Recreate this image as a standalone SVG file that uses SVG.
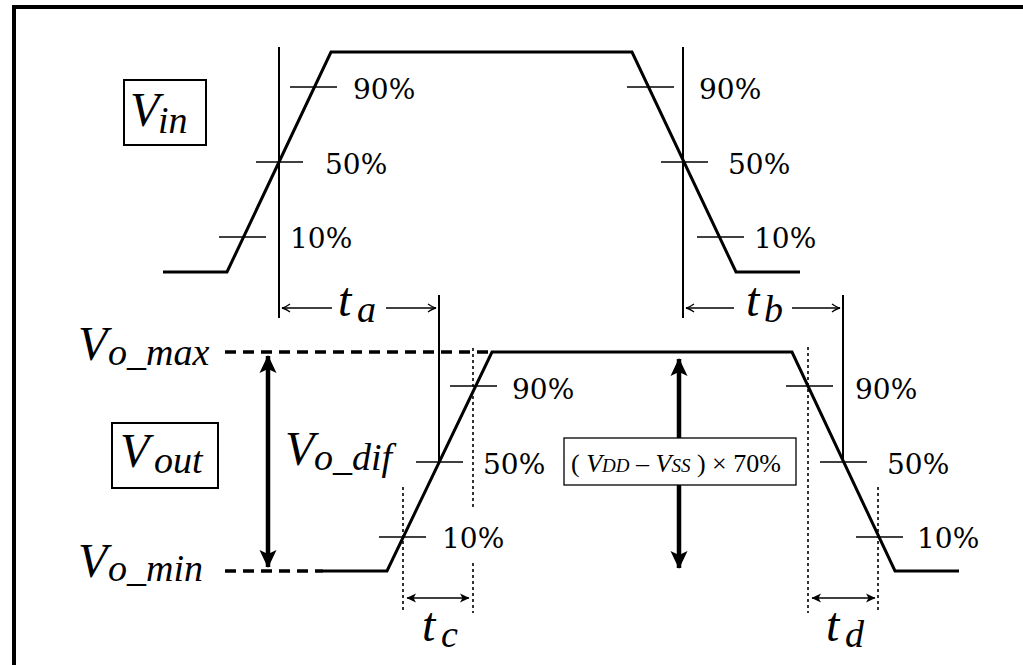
<svg xmlns="http://www.w3.org/2000/svg" width="1023" height="665" viewBox="0 0 1023 665">
<style>
.wave{fill:none;stroke:#000;stroke-width:3;stroke-linejoin:miter}
.vline{stroke:#000;stroke-width:2}
.tick{stroke:#000;stroke-width:1.5}
.dot{stroke:#000;stroke-width:1.6;stroke-dasharray:3 3}
.dash{stroke:#000;stroke-width:3.5;stroke-dasharray:11 7}
.big{stroke:#000;stroke-width:4.5}
.thin{stroke:#000;stroke-width:1.5;fill:none}
text{fill:#000}
.pct{font-family:'DejaVu Serif',serif;font-size:28px}
.mv{font-family:'Liberation Serif',serif;font-style:italic;font-size:48px}
.ms{font-family:'Liberation Serif',serif;font-style:italic;font-size:38px}
.box{fill:#fff;stroke:#000;stroke-width:2}
.eq{font-family:'Liberation Serif',serif;font-size:26px}
</style>
<defs>
<marker id="bigHead" viewBox="-18 -9 20 18" markerWidth="20" markerHeight="18" refX="0" refY="0" orient="auto-start-reverse" markerUnits="userSpaceOnUse">
<path d="M1,0 L-17,-8.5 L-13,0 L-17,8.5 Z" fill="#000"/>
</marker>
<marker id="openHead" viewBox="-10 -6 12 12" markerWidth="12" markerHeight="12" refX="0" refY="0" orient="auto-start-reverse" markerUnits="userSpaceOnUse">
<path d="M-8,-4 Q-3,-0.5 0,0 Q-3,0.5 -8,4" fill="none" stroke="#000" stroke-width="1.4"/>
</marker>
<marker id="smallHead" viewBox="-10 -6 12 12" markerWidth="12" markerHeight="12" refX="0" refY="0" orient="auto-start-reverse" markerUnits="userSpaceOnUse">
<path d="M0.5,0 L-9,-4.5 L-6.5,0 L-9,4.5 Z" fill="#000"/>
</marker>
</defs>
<rect width="1023" height="665" fill="#fff"/>
<path id="frame" d="M14,665 V7 H1023" fill="none" stroke="#000" stroke-width="4"/>

<g id="vin-wave">
<path class="wave" d="M163,272 H227 L331,52 H632 L736,272 H800"/>
</g>
<g id="vout-wave">
<path class="wave" d="M323,571 H387 L492,352 H792 L895,571 H959"/>
</g>

<g id="connectors">
<line class="vline" x1="279" y1="47" x2="279" y2="318"/>
<line class="vline" x1="683" y1="47" x2="683" y2="318"/>
<line class="vline" x1="439" y1="295" x2="439" y2="462"/>
<line class="vline" x1="843" y1="295" x2="843" y2="462"/>
<line class="tick" x1="290" y1="87" x2="337" y2="87"/>
<line class="tick" x1="256" y1="162" x2="303" y2="162"/>
<line class="tick" x1="219" y1="237" x2="266" y2="237"/>
<line class="tick" x1="627" y1="87" x2="674" y2="87"/>
<line class="tick" x1="661" y1="162" x2="708" y2="162"/>
<line class="tick" x1="697" y1="237" x2="744" y2="237"/>
<line class="tick" x1="450" y1="386" x2="497" y2="386"/>
<line class="tick" x1="416" y1="462" x2="463" y2="462"/>
<line class="tick" x1="379" y1="537" x2="426" y2="537"/>
<line class="tick" x1="786" y1="386" x2="833" y2="386"/>
<line class="tick" x1="820" y1="462" x2="867" y2="462"/>
<line class="tick" x1="856" y1="537" x2="903" y2="537"/>
<line class="dot" x1="473" y1="348" x2="473" y2="510"/>
<line class="dot" x1="473" y1="563" x2="473" y2="613"/>
<line class="dot" x1="403" y1="487" x2="403" y2="612"/>
<line class="dot" x1="808" y1="347" x2="808" y2="613"/>
<line class="dot" x1="878" y1="487" x2="878" y2="612"/>
<line class="dash" x1="225" y1="352" x2="490" y2="352"/>
<line class="dash" x1="225" y1="571" x2="323" y2="571"/>
<line class="thin" x1="282" y1="308" x2="332" y2="308" marker-start="url(#openHead)"/>
<line class="thin" x1="386" y1="308" x2="436" y2="308" marker-end="url(#openHead)"/>
<line class="thin" x1="686" y1="308" x2="734" y2="308" marker-start="url(#openHead)"/>
<line class="thin" x1="792" y1="308" x2="840" y2="308" marker-end="url(#openHead)"/>
<line class="thin" x1="407" y1="598" x2="469" y2="598" marker-start="url(#smallHead)" marker-end="url(#smallHead)"/>
<line class="thin" x1="812" y1="598" x2="875" y2="598" marker-start="url(#smallHead)" marker-end="url(#smallHead)"/>
<line class="big" x1="268" y1="356" x2="268" y2="567" marker-start="url(#bigHead)" marker-end="url(#bigHead)"/>
<line class="big" x1="679" y1="359" x2="679" y2="568" marker-start="url(#bigHead)" marker-end="url(#bigHead)"/>
</g>

<g id="pct-labels">
<text class="pct" x="353" y="99">90%</text>
<text class="pct" x="325" y="174">50%</text>
<text class="pct" x="290" y="248">10%</text>
<text class="pct" x="699" y="99">90%</text>
<text class="pct" x="728" y="174">50%</text>
<text class="pct" x="754" y="248">10%</text>
<text class="pct" x="512" y="399">90%</text>
<text class="pct" x="483" y="474">50%</text>
<text class="pct" x="442" y="548">10%</text>
<text class="pct" x="855" y="399">90%</text>
<text class="pct" x="887" y="474">50%</text>
<text class="pct" x="917" y="548">10%</text>
</g>

<g id="vin-label">
<rect class="box" x="124" y="80" width="82" height="65"/>
<text class="mv" x="130" y="126">V</text>
<text class="ms" x="158" y="133">in</text>
</g>
<g id="vout-label">
<rect class="box" x="112" y="423" width="106" height="65"/>
<text class="mv" x="120" y="467">V</text>
<text class="ms" x="154" y="473">out</text>
</g>
<g id="vomax-label">
<text class="mv" x="78" y="360">V</text>
<text class="ms" x="108" y="365">o_max</text>
</g>
<g id="vomin-label">
<text class="mv" x="78" y="577">V</text>
<text class="ms" x="108" y="581">o_min</text>
</g>
<g id="vodif-label">
<text class="mv" x="285" y="465">V</text>
<text class="ms" x="314" y="470">o_dif</text>
</g>
<g id="ta-label">
<text class="mv" x="338" y="316">t</text>
<text class="ms" x="357" y="322">a</text>
</g>
<g id="tb-label">
<text class="mv" x="746" y="316">t</text>
<text class="ms" x="764" y="322">b</text>
</g>
<g id="tc-label">
<text class="mv" x="422" y="641">t</text>
<text class="ms" x="441" y="647">c</text>
</g>
<g id="td-label">
<text class="mv" x="826" y="641">t</text>
<text class="ms" x="845" y="647">d</text>
</g>
<g id="swing-label">
<rect x="564" y="438" width="232" height="47" fill="#fff" stroke="#000" stroke-width="1.3"/>
<text class="eq" x="571" y="472">( <tspan font-style="italic">V</tspan><tspan font-style="italic" font-size="19px">DD</tspan> – <tspan font-style="italic">V</tspan><tspan font-style="italic" font-size="19px">SS</tspan> ) × 70%</text>
</g>
</svg>
